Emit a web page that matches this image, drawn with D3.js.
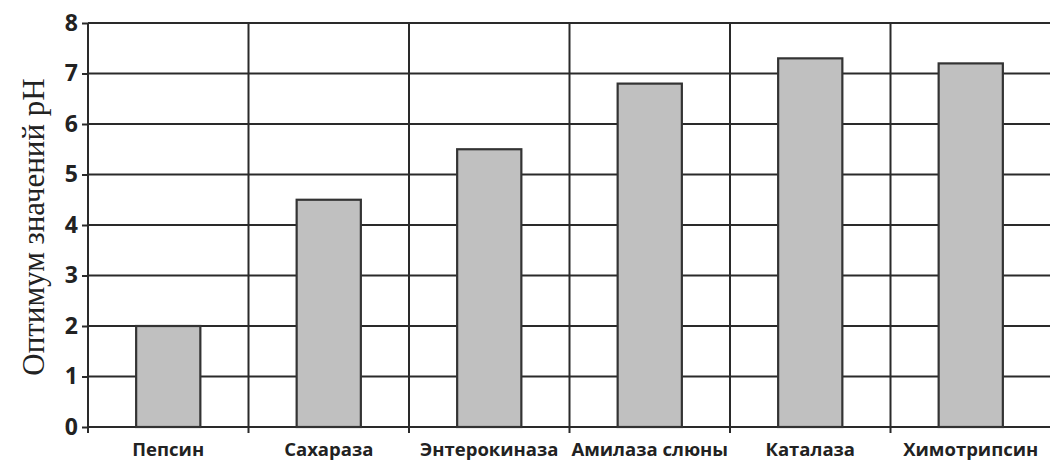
<!DOCTYPE html>
<html><head><meta charset="utf-8">
<script src="https://cdn.jsdelivr.net/npm/d3@7"></script>
<style>body{margin:0;background:#fff}</style>
</head><body>
<svg id="c" width="1050" height="462"></svg>
<script>
const categories = ["Пепсин","Сахараза","Энтерокиназа","Амилаза слюны","Каталаза","Химотрипсин"];
const values = [2.0, 4.5, 5.5, 6.8, 7.3, 7.2];
const yTicks = [0,1,2,3,4,5,6,7,8];
const yTitle = "Оптимум значений pH";

const svg = d3.select("#c");
const m = {left:88, right:1051, top:23, bottom:427};
const x = d3.scaleBand().domain(categories).range([m.left, m.right]).paddingInner(0).paddingOuter(0);
const y = d3.scaleLinear().domain([0,8]).range([m.bottom, m.top]);
const stroke = "#2a2a2a";

// horizontal grid
svg.append("g").selectAll("line").data(yTicks).join("line")
  .attr("x1", m.left).attr("x2", m.right)
  .attr("y1", d=>y(d)).attr("y2", d=>y(d))
  .attr("stroke", stroke).attr("stroke-width", 2);
// vertical grid at band boundaries
const bounds = categories.map(c=>x(c)).concat([m.right]);
svg.append("g").selectAll("line").data(bounds).join("line")
  .attr("x1", d=>d).attr("x2", d=>d)
  .attr("y1", m.top).attr("y2", m.bottom+6)
  .attr("stroke", stroke).attr("stroke-width", 2);

// bars
const bw = x.bandwidth()*0.4;
svg.append("g").selectAll("rect").data(values).join("rect")
  .attr("x", (d,i)=>x(categories[i]) + x.bandwidth()/2 - bw/2)
  .attr("width", bw)
  .attr("y", d=>y(d))
  .attr("height", d=>y(0)-y(d))
  .attr("fill", "#c0c0c0").attr("stroke", "#333").attr("stroke-width", 2.2);

// y axis
const ya = svg.append("g").attr("transform", `translate(${m.left},0)`)
  .call(d3.axisLeft(y).tickValues(yTicks).tickSize(6).tickPadding(4).tickFormat(d3.format("d")));
ya.select(".domain").remove();
ya.selectAll("line").attr("stroke", stroke).attr("stroke-width", 2);
ya.selectAll("text").attr("font-family","'Open Sans', sans-serif").attr("font-weight","bold")
  .attr("font-size", 23).attr("fill","#222");

// x axis labels
const xa = svg.append("g").attr("transform", `translate(0,${m.bottom})`)
  .call(d3.axisBottom(x).tickSize(0).tickPadding(10));
xa.select(".domain").remove();
xa.selectAll("text").attr("font-family","'Open Sans', sans-serif").attr("font-weight","bold")
  .attr("font-size", 18.5).attr("fill","#222").attr("dy","1.05em");

// y title
svg.append("text").attr("transform", `translate(44,${(m.top+m.bottom)/2 + 2}) rotate(-90)`)
  .attr("text-anchor","middle").attr("font-family","'Liberation Serif', 'Times New Roman', serif")
  .attr("font-size", 31).attr("fill","#222").text(yTitle);
</script>
</body></html>
